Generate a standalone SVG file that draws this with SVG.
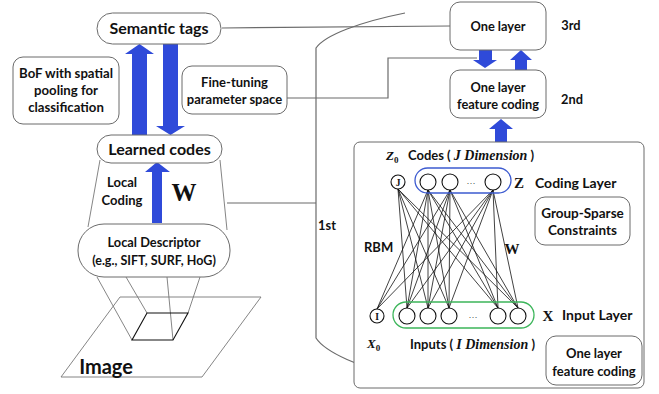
<svg xmlns="http://www.w3.org/2000/svg" width="659" height="394" viewBox="0 0 659 394">
  <style>
    .box { fill: #fff; stroke: #6b6b6b; stroke-width: 1; }
    .ln { fill: none; stroke: #6b6b6b; stroke-width: 1.2; }
    .thin { fill: none; stroke: #777; stroke-width: 0.9; }
    .arrow { fill: #2f4ad9; }
    .t { font-family: Lato, "Open Sans", "Liberation Sans", sans-serif; font-weight: bold; fill: #111; text-anchor: middle; }
    .s { font-family: "Liberation Serif", "DejaVu Serif", serif; fill: #111; }
    .node { fill: #fff; stroke: #111; stroke-width: 1.1; }
    .edge { stroke: #111; stroke-width: 0.8; }
  </style>

  <!-- connectors -->
  <g id="connectors">
    <path class="ln" d="M222,28 L450,26"/>
    <path class="ln" d="M287,98 L388,98 L388,58 L477,58"/>
    <path class="ln" d="M227,203 L316,203"/>
    <path class="ln" d="M405,13 C360,22 325,35 316,48 L316,338 C325,352 360,368 405,378"/>
    <!-- left column arrows -->
    <polygon class="arrow" points="139.5,44 154,54 147,54 147,135 132,135 132,54 125,54"/>
    <polygon class="arrow" points="163,44 178,44 178,126 185,126 170.5,135 156,126 163,126"/>
    <polygon class="arrow" points="157,162 170,172 162,172 162,223 152,223 152,172 145,172"/>
    <!-- right column arrows -->
    <polygon class="arrow" points="479,50 492,50 492,60 497,60 485,68 473,60 479,60"/>
    <polygon class="arrow" points="521,50 532,60 527,60 527,70 515,70 515,60 510,60"/>
    <polygon class="arrow" points="501,119 513,129 507,129 507,142 495,142 495,129 489,129"/>
  </g>

  <!-- left column -->
  <g id="semantic-tags">
    <rect class="box" x="97" y="13" width="124" height="31" rx="15.5"/>
    <text class="t" x="159" y="34" font-size="16">Semantic tags</text>
  </g>
  <g id="bof">
    <rect class="box" x="13" y="57" width="106" height="67" rx="10"/>
    <text class="t" x="66" y="78" font-size="13.2">BoF with spatial</text>
    <text class="t" x="66" y="95" font-size="13.2">pooling for</text>
    <text class="t" x="66" y="112" font-size="13.2">classification</text>
  </g>
  <g id="fine-tuning">
    <rect class="box" x="182" y="66" width="105" height="48" rx="10"/>
    <text class="t" x="234.5" y="87" font-size="13">Fine-tuning</text>
    <text class="t" x="234.5" y="104" font-size="13">parameter space</text>
  </g>
  <g id="local-coding">
    <path class="thin" d="M100,160 L88,227 M220,160 L227,230"/>
    <text class="t" x="122" y="187" font-size="13">Local</text>
    <text class="t" x="122" y="205" font-size="13">Coding</text>
    <text class="s" x="184" y="201" font-size="25" font-weight="bold" text-anchor="middle">W</text>
  </g>
  <g id="learned-codes">
    <rect class="box" x="97" y="135" width="125" height="28" rx="14"/>
    <text class="t" x="159.5" y="155" font-size="16">Learned codes</text>
  </g>
  <g id="local-descriptor">
    <rect class="box" x="78" y="224" width="152" height="53" rx="26"/>
    <text class="t" x="154" y="247" font-size="12.8">Local Descriptor</text>
    <text class="t" x="154" y="265" font-size="12.5">(e.g., SIFT, SURF, HoG)</text>
  </g>
  <g id="image">
    <polygon class="thin" points="120,297 261,297 202,377 61,377"/>
    <path class="thin" d="M97,277 L132,340 M126,277 L147,313 M167,277 L173,340 M200,277 L188,313"/>
    <polygon fill="none" stroke="#111" stroke-width="1.1" points="147,313 188,313 173,340 132,340"/>
    <text class="t" x="106" y="374" font-size="20" font-weight="600">Image</text>
  </g>

  <!-- right column -->
  <g id="layer-3">
    <rect class="box" x="450" y="2" width="96" height="48" rx="10"/>
    <text class="t" x="498" y="31" font-size="12.8">One layer</text>
    <text class="t" x="571" y="30" font-size="12.8">3rd</text>
  </g>
  <g id="layer-2">
    <rect class="box" x="450" y="70" width="96" height="48" rx="10"/>
    <text class="t" x="498" y="92" font-size="12.8">One layer</text>
    <text class="t" x="498" y="109" font-size="12.8">feature coding</text>
    <text class="t" x="572" y="104" font-size="12.8">2nd</text>
  </g>
  <text class="t" x="327" y="230" font-size="12.8">1st</text>

  <g id="layer-1">
    <rect class="box" x="354" y="142" width="290" height="246" rx="6"/>
    <text class="s" x="386" y="160" font-size="13" font-style="italic" font-weight="bold">Z<tspan font-size="9" dy="3" font-style="normal">0</tspan></text>
    <text x="408" y="160" font-size="13" font-family="Lato, 'Liberation Sans', sans-serif" font-weight="bold" fill="#111">Codes ( <tspan font-family="'Liberation Serif', serif" font-style="italic" font-size="14">J Dimension</tspan> )</text>

    <g id="weights">
      <line class="edge" x1="398" y1="189" x2="407" y2="308"/>
      <line class="edge" x1="398" y1="189" x2="428" y2="308"/>
      <line class="edge" x1="398" y1="189" x2="449" y2="308"/>
      <line class="edge" x1="398" y1="189" x2="498" y2="308"/>
      <line class="edge" x1="398" y1="189" x2="518" y2="308"/>
      <line class="edge" x1="428" y1="190" x2="377" y2="309"/>
      <line class="edge" x1="428" y1="190" x2="407" y2="308"/>
      <line class="edge" x1="428" y1="190" x2="428" y2="308"/>
      <line class="edge" x1="428" y1="190" x2="449" y2="308"/>
      <line class="edge" x1="428" y1="190" x2="498" y2="308"/>
      <line class="edge" x1="428" y1="190" x2="518" y2="308"/>
      <line class="edge" x1="450" y1="190" x2="377" y2="309"/>
      <line class="edge" x1="450" y1="190" x2="407" y2="308"/>
      <line class="edge" x1="450" y1="190" x2="428" y2="308"/>
      <line class="edge" x1="450" y1="190" x2="449" y2="308"/>
      <line class="edge" x1="450" y1="190" x2="498" y2="308"/>
      <line class="edge" x1="450" y1="190" x2="518" y2="308"/>
      <line class="edge" x1="493" y1="190" x2="377" y2="309"/>
      <line class="edge" x1="493" y1="190" x2="407" y2="308"/>
      <line class="edge" x1="493" y1="190" x2="428" y2="308"/>
      <line class="edge" x1="493" y1="190" x2="449" y2="308"/>
      <line class="edge" x1="493" y1="190" x2="498" y2="308"/>
      <line class="edge" x1="493" y1="190" x2="518" y2="308"/>
    </g>

    <!-- coding layer -->
    <rect x="415" y="168" width="96" height="25" rx="12.5" fill="none" stroke="#3d5bd0" stroke-width="1.3"/>
    <circle class="node" cx="398" cy="182" r="7"/>
    <text class="s" x="398" y="185.5" font-size="9.5" font-weight="bold" text-anchor="middle">J</text>
    <circle class="node" cx="428" cy="182" r="8"/>
    <circle class="node" cx="450" cy="182" r="8"/>
    <text class="s" x="471" y="184" font-size="9" text-anchor="middle">…</text>
    <circle class="node" cx="493" cy="182" r="8"/>
    <text class="s" x="519" y="188" font-size="15" font-weight="bold" text-anchor="middle">Z</text>
    <text x="535" y="188" font-size="14" font-family="Lato, 'Liberation Sans', sans-serif" font-weight="bold" fill="#111">Coding Layer</text>

    <g id="group-sparse">
      <rect class="box" x="535" y="197" width="95" height="48" rx="10"/>
      <text class="t" x="582.5" y="218" font-size="13.5">Group-Sparse</text>
      <text class="t" x="582.5" y="235" font-size="13.5">Constraints</text>
    </g>

    <text x="364" y="252" font-size="13" font-family="Lato, 'Liberation Sans', sans-serif" font-weight="bold" fill="#111">RBM</text>
    <text class="s" x="512" y="254" font-size="15" font-weight="bold" text-anchor="middle">W</text>

    <!-- input layer -->
    <rect x="393" y="302" width="141" height="26" rx="13" fill="none" stroke="#3cb55a" stroke-width="1.3"/>
    <circle class="node" cx="377" cy="316" r="7"/>
    <text class="s" x="377" y="319.5" font-size="9.5" font-weight="bold" text-anchor="middle">I</text>
    <circle class="node" cx="407" cy="316" r="8"/>
    <circle class="node" cx="428" cy="316" r="8"/>
    <circle class="node" cx="449" cy="316" r="8"/>
    <text class="s" x="473" y="318" font-size="9" text-anchor="middle">…</text>
    <circle class="node" cx="498" cy="316" r="8"/>
    <circle class="node" cx="518" cy="316" r="8"/>
    <text class="s" x="548" y="321" font-size="15" font-weight="bold" text-anchor="middle">X</text>
    <text x="562" y="320" font-size="14" font-family="Lato, 'Liberation Sans', sans-serif" font-weight="bold" fill="#111">Input Layer</text>

    <text class="s" x="367" y="348" font-size="13" font-style="italic" font-weight="bold">X<tspan font-size="9" dy="3" font-style="normal">0</tspan></text>
    <text x="410" y="349" font-size="13" font-family="Lato, 'Liberation Sans', sans-serif" font-weight="bold" fill="#111">Inputs ( <tspan font-family="'Liberation Serif', serif" font-style="italic" font-size="14">I Dimension</tspan> )</text>

    <g id="feature-coding">
      <rect class="box" x="546" y="336" width="96" height="49" rx="10"/>
      <text class="t" x="594" y="358" font-size="13">One layer</text>
      <text class="t" x="594" y="376" font-size="13">feature coding</text>
    </g>
  </g>
</svg>
